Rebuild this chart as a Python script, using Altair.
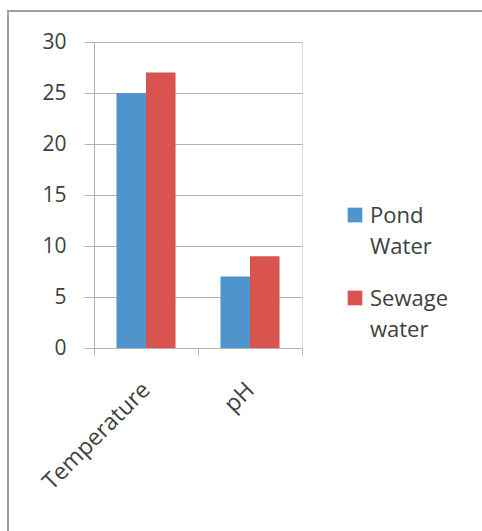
import altair as alt
import pandas as pd

categories = ["Temperature", "pH"]
series = ["Pond Water", "Sewage water"]
pond_values = [25, 7]
sewage_values = [27, 9]
y_ticks = [0, 5, 10, 15, 20, 25, 30]
colors = ["#4F94CD", "#D9534F"]

rows = []
for i, c in enumerate(categories):
    rows.append({"category": c, "series": series[0], "value": pond_values[i]})
    rows.append({"category": c, "series": series[1], "value": sewage_values[i]})
df = pd.DataFrame(rows)

FONT = "Open Sans"
TEXT = "#404040"
GRID = "#b3b3b3"

W, H = 208, 306
PAD = {"left": 94, "top": 42, "right": 482 - 94 - W, "bottom": 531 - 42 - H}

bars = alt.Chart(df).mark_bar().encode(
    x=alt.X(
        "category:N",
        sort=categories,
        scale=alt.Scale(paddingInner=0, paddingOuter=0),
        axis=alt.Axis(
            title=None, labelAngle=-45, labelAlign="right", labelBaseline="middle",
            labelPadding=31, tickBand="extent", tickSize=7, tickColor=GRID,
            domainColor=GRID, labelFont=FONT, labelFontSize=23, labelColor=TEXT,
            grid=False,
        ),
    ),
    xOffset=alt.XOffset("series:N", sort=series,
                        scale=alt.Scale(paddingInner=0, paddingOuter=0.76)),
    y=alt.Y(
        "value:Q",
        scale=alt.Scale(domain=[0, 30], nice=False),
        axis=alt.Axis(
            title=None, values=y_ticks, tickSize=10, tickColor=GRID, domainColor=GRID,
            gridColor=GRID, grid=True, labelPadding=18, labelFont=FONT,
            labelFontSize=21, labelColor=TEXT,
        ),
    ),
    color=alt.Color("series:N", sort=series,
                    scale=alt.Scale(domain=series, range=colors), legend=None),
)

layers = [bars]

# outer frame
frame = alt.Chart(pd.DataFrame({"a": [0]})).mark_rect(
    fillOpacity=0, stroke="#a0a0a0", strokeWidth=2
).encode(
    x=alt.value(8 - 94), x2=alt.value(600), y=alt.value(11 - 42), y2=alt.value(700)
)
layers.append(frame)

# legend (manual, two-line labels)
legend_y = [215 - 42, 298 - 42]
for i, s in enumerate(series):
    sq = alt.Chart(pd.DataFrame({"series": [s]})).mark_square(
        size=215, color=colors[i], opacity=1
    ).encode(x=alt.value(355 - 94), y=alt.value(legend_y[i]))
    txt = alt.Chart(pd.DataFrame({"series": [s]})).mark_text(
        align="left", baseline="alphabetic", font=FONT, fontSize=22,
        color=TEXT, lineHeight=31
    ).encode(
        x=alt.value(370 - 94), y=alt.value(legend_y[i] + 8),
        text=alt.value(s.split(" ")),
    )
    layers += [sq, txt]

chart = alt.layer(*layers).properties(
    width=W, height=H,
    autosize=alt.AutoSizeParams(type="none"),
    padding=PAD,
).configure_view(stroke=None).configure(background="white")

chart.save("out.html", embed_options={"renderer": "svg", "actions": False})
